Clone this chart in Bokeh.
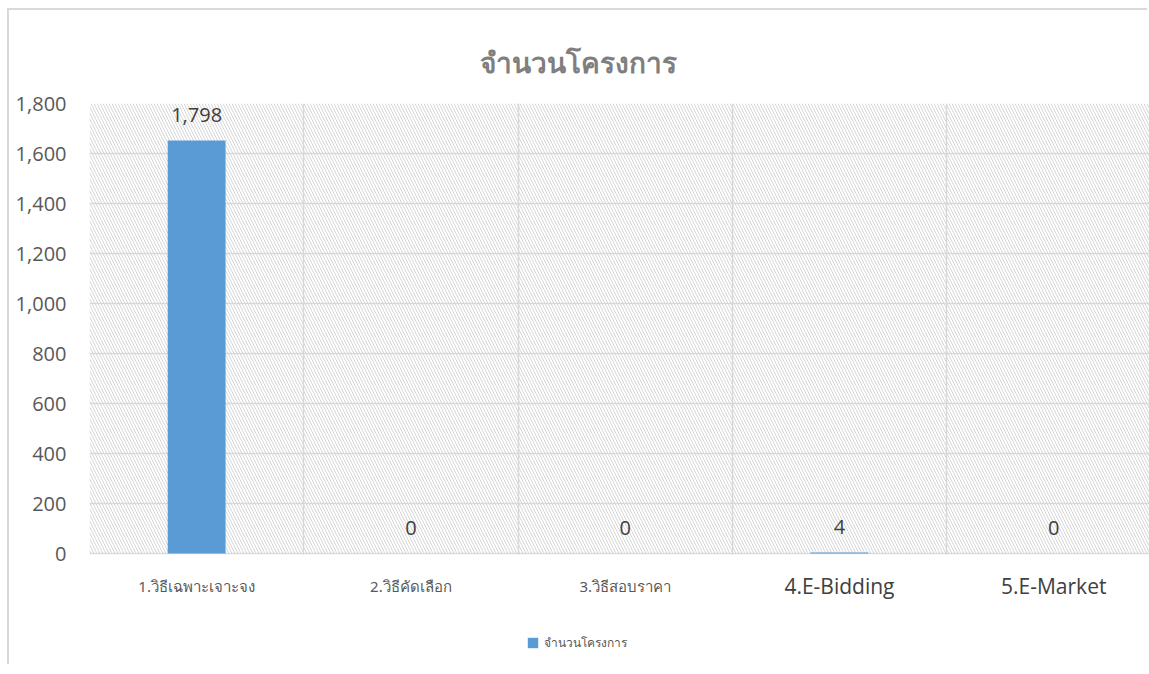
from bokeh.plotting import figure
from bokeh.models import (Range1d, FixedTicker, BoxAnnotation, LabelSet, ColumnDataSource,
                          Legend, LegendItem, NumeralTickFormatter)
from bokeh.core.properties import value
from bokeh.embed import file_html
from bokeh.resources import INLINE

# ---- data ----
categories = ["1.วิธีเฉพาะเจาะจง", "2.วิธีคัดเลือก", "3.วิธีสอบราคา", "4.E-Bidding", "5.E-Market"]
bar_values = [1652, 0, 0, 4, 0]
value_labels = ["1,798", "0", "0", "4", "0"]
y_ticks = [0, 200, 400, 600, 800, 1000, 1200, 1400, 1600, 1800]
title_text = "จำนวนโครงการ"
series_name = "จำนวนโครงการ"

xs = [i + 0.5 for i in range(len(categories))]
y_max = y_ticks[-1]

p = figure(width=1140, height=656, output_backend="svg", toolbar_location=None,
           x_range=Range1d(0, 4.947), y_range=Range1d(-452, y_max),
           min_border_left=80, min_border_right=0, min_border_top=93, min_border_bottom=0)
p.styles = {"margin-left": "9px", "margin-top": "10px",
            "box-shadow": "-2px -2px 0 0 #d9d9d9"}
p.outline_line_color = None
p.background_fill_color = "white"
p.border_fill_color = "white"

# grids
p.ygrid.ticker = FixedTicker(ticks=y_ticks)
p.ygrid.grid_line_color = "#d9d9d9"
p.ygrid.grid_line_width = 1.5
p.xgrid.ticker = FixedTicker(ticks=[0, 1, 2, 3, 4])
p.xgrid.grid_line_color = "#d9d9d9"
p.xgrid.grid_line_width = 1.5

# white area below the plot area (hides grid lines under the axis)
p.add_layout(BoxAnnotation(top=-5, fill_color="white", fill_alpha=1, line_alpha=0,
                           level="underlay"))
# hatch background of the plot area
p.add_layout(BoxAnnotation(bottom=0, top=y_max, fill_alpha=0, line_alpha=0,
                           hatch_pattern="\\", hatch_color="#d6d6d6",
                           hatch_scale=6, hatch_weight=1, level="underlay"))

# axes
p.xaxis.visible = False
p.yaxis.ticker = FixedTicker(ticks=y_ticks)
p.yaxis.formatter = NumeralTickFormatter(format="0,0")
p.yaxis.axis_line_color = None
p.yaxis.major_tick_line_color = None
p.yaxis.minor_tick_line_color = None
p.yaxis.major_label_text_font = "Open Sans"
p.yaxis.major_label_text_font_size = "20px"
p.yaxis.major_label_text_color = "#595959"
p.yaxis.major_label_standoff = 17

src = ColumnDataSource(dict(x=xs, top=bar_values, lab=value_labels, cat=categories))
bars = p.vbar(x="x", top="top", width=0.27, bottom=0, source=src,
              fill_color="#5b9bd5", line_color=None)

# value labels
p.add_layout(LabelSet(x="x", y="top", text="lab", source=src, text_align="center",
                      text_baseline="bottom", y_offset=19, text_font=value("Open Sans"),
                      text_font_size=value("20px"), text_color=value("#404040")))

# category labels
src_thai = ColumnDataSource(dict(x=xs[:3], y=[-128] * 3, cat=categories[:3]))
src_lat = ColumnDataSource(dict(x=xs[3:], y=[-128] * 2, cat=categories[3:]))
p.add_layout(LabelSet(x="x", y="y", text="cat", source=src_thai, text_align="center",
                      text_baseline="middle", text_font=value("Noto Sans"),
                      text_font_size=value("15px"), text_color=value("#595959")))
p.add_layout(LabelSet(x="x", y="y", text="cat", source=src_lat, text_align="center",
                      text_baseline="middle", text_font=value("Open Sans"),
                      text_font_size=value("21px"), text_color=value("#404040")))

# title
p.title.text = title_text
p.title.align = "left"
p.title.offset = 390
p.title.text_font_size = "28px"
p.title.text_font_style = "bold"
p.title.text_color = "#7f7f7f"
p.title.text_font = "Noto Serif"
p.title.standoff = 45

legend = Legend(items=[LegendItem(label=series_name, renderers=[bars])],
                location=(437, 14), orientation="horizontal",
                glyph_width=13, glyph_height=13, label_text_font="Noto Sans",
                label_text_font_size="12px", label_text_color="#595959",
                border_line_color=None, background_fill_alpha=0, padding=4, margin=0,
                label_standoff=5)
p.add_layout(legend, "center")

open("out.html", "w").write(file_html(p, INLINE))
